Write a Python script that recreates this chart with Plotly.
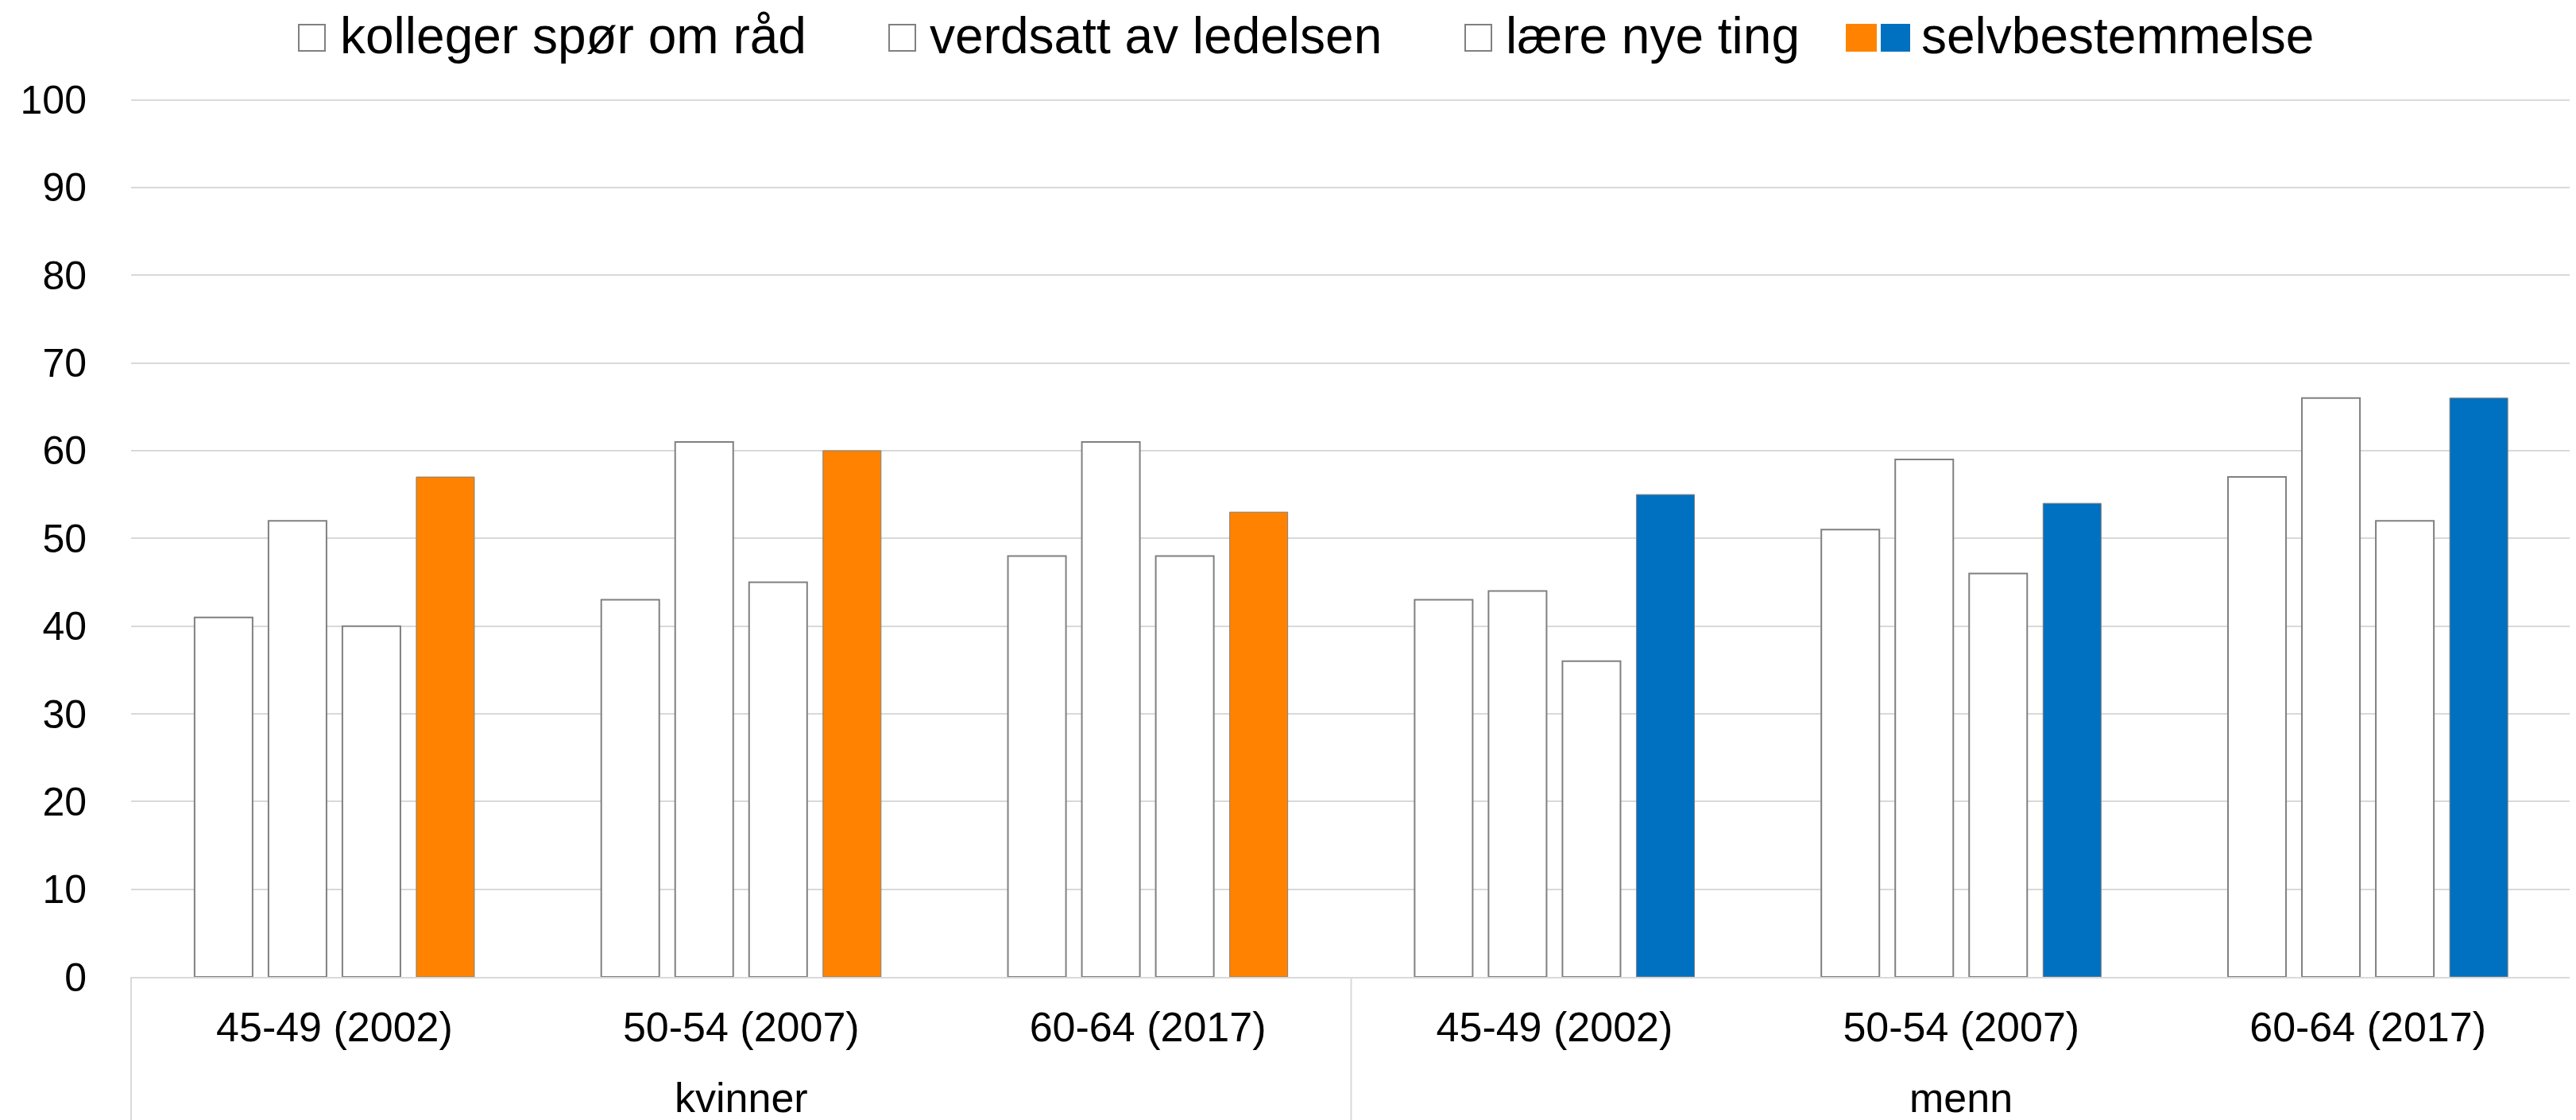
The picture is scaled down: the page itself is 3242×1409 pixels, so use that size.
import plotly.graph_objects as go

# ---- data ----
genders = ["kvinner", "kvinner", "kvinner", "menn", "menn", "menn"]
ages = ["45-49 (2002)", "50-54 (2007)", "60-64 (2017)",
        "45-49 (2002)", "50-54 (2007)", "60-64 (2017)"]
group_labels = ["kvinner", "menn"]
series_names = ["kolleger spør om råd", "verdsatt av ledelsen", "lære nye ting", "selvbestemmelse"]
kolleger = [41, 43, 48, 43, 51, 57]
verdsatt = [52, 61, 61, 44, 59, 66]
laere = [40, 45, 48, 36, 46, 52]
selvbestemmelse = [57, 60, 53, 55, 54, 66]
y_ticks = [0, 10, 20, 30, 40, 50, 60, 70, 80, 90, 100]

ORANGE = "#FF8300"
BLUE = "#0070C0"
OUTLINE = "#808080"
GRID = "#D9D9D9"
FONT = "Liberation Sans, Arial, sans-serif"

W, H = 3242, 1409
L, R, T, B = 157, 14, 116, 188
PW = W - L - R
PH = H - T - B

# unique category keys; displayed labels are the age groups
keys = [f"{g}|{a}" for g, a in zip(genders, ages)]

fig = go.Figure()
for name, vals in zip(series_names[:3], [kolleger, verdsatt, laere]):
    fig.add_trace(go.Bar(x=keys, y=vals, name=name, showlegend=False,
                         marker=dict(color="white", line=dict(color=OUTLINE, width=2))))
sel_colors = [ORANGE if g == "kvinner" else BLUE for g in genders]
fig.add_trace(go.Bar(x=keys, y=selvbestemmelse, name=series_names[3], showlegend=False,
                     marker=dict(color=sel_colors, line=dict(color=OUTLINE, width=1))))

fig.update_layout(
    width=W, height=H,
    margin=dict(l=L, r=R, t=T, b=B, pad=0),
    paper_bgcolor="white", plot_bgcolor="white",
    barmode="group", bargap=0.273, bargroupgap=0.215,
    font=dict(family=FONT, color="black", size=52),
    showlegend=False,
)
fig.update_xaxes(type="category", tickvals=keys, ticktext=ages,
                 showline=True, linecolor=GRID, linewidth=2, ticks="",
                 ticklabelstandoff=17, automargin=False,
                 tickfont=dict(size=52, family=FONT, color="black"), showgrid=False)
fig.update_yaxes(range=[0, 100.15], tickvals=y_ticks, showgrid=True, gridcolor=GRID, gridwidth=2,
                 zeroline=False, showline=False, ticks="", ticklabelstandoff=55, automargin=False,
                 tickfont=dict(size=50, family=FONT, color="black"))

def px_x(p):
    return (p - L) / PW

def px_y(p):
    return (H - B - p) / PH

# ---- group dividers and group labels below the category axis ----
n_groups = len(group_labels)
for i in range(n_groups + 1):
    xp = i / n_groups
    fig.add_shape(type="line", xref="paper", yref="paper", x0=xp, x1=xp,
                  y0=0, y1=px_y(H), line=dict(color=GRID, width=2))
for i, g in enumerate(group_labels):
    fig.add_annotation(xref="paper", yref="paper", x=(i + 0.5) / n_groups, y=px_y(1373),
                       xanchor="center", yanchor="middle", text=g, showarrow=False,
                       font=dict(size=52, family=FONT, color="black"))

# ---- manual legend (so the paired orange/blue swatch can be shown) ----
sw_top, sw_bot, text_y = 23, 56, 37
legend_items = [
    (series_names[0], [(368, 401, "white")], 418),
    (series_names[1], [(1111, 1144, "white")], 1160),
    (series_names[2], [(1836, 1869, "white")], 1885),
    (series_names[3], [(2316, 2353, ORANGE), (2360, 2395, BLUE)], 2408),
]
for label, swatches, tx in legend_items:
    for x0, x1, col in swatches:
        fig.add_shape(type="rect", xref="paper", yref="paper",
                      x0=px_x(x0), x1=px_x(x1), y0=px_y(sw_bot), y1=px_y(sw_top),
                      fillcolor=col, line=dict(color=OUTLINE if col == "white" else col, width=2))
    fig.add_annotation(xref="paper", yref="paper", x=px_x(tx), y=px_y(text_y),
                       xanchor="left", yanchor="middle", text=label, showarrow=False,
                       font=dict(size=64, family=FONT, color="black"))

fig.write_html("out.html")
